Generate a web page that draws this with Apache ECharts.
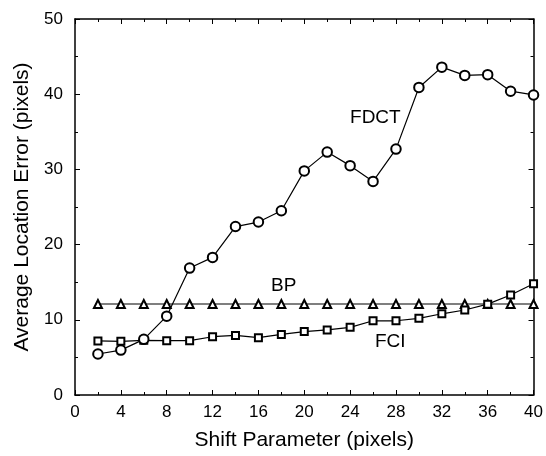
<!DOCTYPE html>
<html>
<head>
<meta charset="utf-8">
<script src="https://cdn.jsdelivr.net/npm/echarts@6/dist/echarts.min.js"></script>
<style>
html,body{margin:0;padding:0;background:#fff;}
#c{width:546px;height:456px;}
</style>
</head>
<body>
<div id="c"></div>
<script>
const shift = [2,4,6,8,10,12,14,16,18,20,22,24,26,28,30,32,34,36,38,40];
const fdct = [5.45,5.97,7.4,10.48,16.88,18.3,22.4,23.0,24.5,29.8,32.3,30.5,28.4,32.7,40.9,43.6,42.5,42.6,40.4,39.9];
const bp = [12.1,12.1,12.1,12.1,12.1,12.1,12.1,12.1,12.1,12.1,12.1,12.1,12.1,12.1,12.1,12.1,12.1,12.1,12.1,12.1];
const fci = [7.19,7.14,7.27,7.23,7.23,7.75,7.92,7.62,8.05,8.44,8.66,9.0,9.87,9.87,10.2,10.8,11.3,12.08,13.3,14.8];
const labelFDCT = {name:'FDCT', x:26.2, y:36.9};
const labelBP = {name:'BP', x:18.2, y:14.5};
const labelFCI = {name:'FCI', x:27.5, y:7.1};

const FONT = '"Liberation Sans", Arial, Helvetica, sans-serif';
const chart = echarts.init(document.getElementById('c'), null, {renderer:'canvas'});

function pair(ys){ return shift.map((x,i)=>[x, ys[i]]); }
function annot(l){
  return {
    symbol:'rect', symbolSize:1, silent:true,
    itemStyle:{color:'rgba(0,0,0,0)'},
    label:{show:true, position:'inside', formatter:l.name, color:'#000', fontSize:19, fontFamily:FONT},
    data:[{coord:[l.x, l.y]}]
  };
}
const axisLineStyle = {color:'#000', width:1.5};
const baseX = {
  type:'value', min:0, max:40, interval:4,
  axisLine:{show:true, onZero:false, lineStyle:axisLineStyle},
  axisTick:{show:true, inside:true, length:5, lineStyle:{color:'#000', width:1}},
  minorTick:{show:true, splitNumber:2, length:3, lineStyle:{color:'#000', width:1}},
  splitLine:{show:false}, minorSplitLine:{show:false}
};
const baseY = {
  type:'value', min:0, max:50, interval:10,
  axisLine:{show:true, onZero:false, lineStyle:axisLineStyle},
  axisTick:{show:true, inside:true, length:5, lineStyle:{color:'#000', width:1}},
  minorTick:{show:true, splitNumber:2, length:3, lineStyle:{color:'#000', width:1}},
  splitLine:{show:false}, minorSplitLine:{show:false}
};
function lineSeries(name, ys, sym, size, label){
  return {
    name, type:'line', data:pair(ys), xAxisIndex:0, yAxisIndex:0,
    symbol:sym, symbolSize:size, showSymbol:true,
    lineStyle:{color:'#000', width:1.2},
    itemStyle:{color:'#000', borderColor:'#000', borderWidth:1.1},
    animation:false,
    markPoint: annot(label)
  };
}
chart.setOption({
  animation:false,
  backgroundColor:'#fff',
  grid:{left:75, right:12, top:19, bottom:54},
  xAxis:[
    Object.assign({}, baseX, {
      position:'bottom',
      name:'Shift Parameter (pixels)', nameLocation:'middle', nameGap:35,
      nameTextStyle:{color:'#000', fontSize:21, fontFamily:FONT},
      axisLabel:{show:true, color:'#000', fontSize:17, fontFamily:FONT, margin:9}
    }),
    Object.assign({}, baseX, {position:'top', axisLabel:{show:false}})
  ],
  yAxis:[
    Object.assign({}, baseY, {
      position:'left',
      name:'Average Location Error (pixels)', nameLocation:'middle', nameGap:38,
      nameTextStyle:{color:'#000', fontSize:21, fontFamily:FONT},
      axisLabel:{show:true, color:'#000', fontSize:17, fontFamily:FONT, margin:12}
    }),
    Object.assign({}, baseY, {position:'right', axisLabel:{show:false}})
  ],
  series:[
    lineSeries('BP', bp, 'emptyTriangle', 8, labelBP),
    lineSeries('FCI', fci, 'emptyRect', 7, labelFCI),
    lineSeries('FDCT', fdct, 'emptyCircle', 9.5, labelFDCT)
  ]
});
</script>
</body>
</html>
